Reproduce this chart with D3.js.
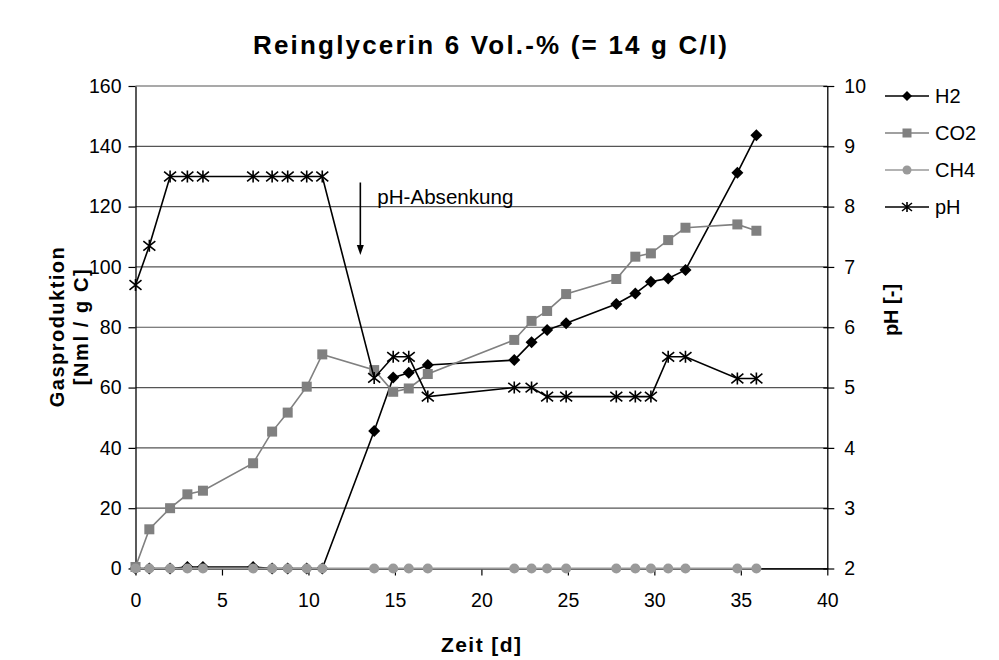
<!DOCTYPE html>
<html><head><meta charset="utf-8">
<script src="https://cdn.jsdelivr.net/npm/d3@7"></script>
<style>body{margin:0;background:#fff}svg{display:block}text{font-family:"Liberation Sans",Arial,sans-serif}</style>
</head><body><svg id="c" width="999" height="660"></svg>
<script>
const days = [0,0.8,2,3,3.9,6.8,7.9,8.8,9.9,10.8,13.8,14.9,15.8,16.9,21.9,22.9,23.8,24.9,27.8,28.9,29.8,30.8,31.8,34.8,35.9];
const h2  = [0,0,0,0.5,0.5,0.5,0,0,0,0,45.6,63.3,64.9,67.5,69.1,75.0,79.1,81.3,87.7,91.2,95.1,96.2,99.0,131.2,143.7];
const co2 = [0.5,13.0,20.0,24.6,25.8,34.9,45.4,51.7,60.3,71.0,65.8,58.6,59.7,64.5,75.8,82.1,85.4,91.0,96.0,103.4,104.5,108.9,113.0,114.1,112.0];
const ch4 = [0,0,0,0,0,0,0,0,0,0,0,0,0,0,0,0,0,0,0,0,0,0,0,0,0];
const ph  = [6.7,7.35,8.5,8.5,8.5,8.5,8.5,8.5,8.5,8.5,5.16,5.51,5.51,4.85,5.0,5.0,4.85,4.85,4.85,4.85,4.85,5.51,5.51,5.15,5.15];
const xTicks = [0,5,10,15,20,25,30,35,40];
const yTicks = [0,20,40,60,80,100,120,140,160];
const y2Ticks = [2,3,4,5,6,7,8,9,10];
const seriesNames = ["H2","CO2","CH4","pH"];
const title = "Reinglycerin 6 Vol.-% (= 14 g C/l)";
const annotation = {x: 13, yTop: 128, yBot: 104, label: "pH-Absenkung"};

const svg = d3.select("#c");
const L=135.5, R=827.3, T=86, B=568.5;
const x = d3.scaleLinear().domain([0,40]).range([L,R]);
const y = d3.scaleLinear().domain([0,160]).range([B,T]);
const y2 = d3.scaleLinear().domain([2,10]).range([B,T]);
const FS = 19.5;

// gridlines
svg.append("g").selectAll("line").data(yTicks).join("line")
  .attr("x1",L).attr("x2",R).attr("y1",d=>y(d)).attr("y2",d=>y(d))
  .attr("stroke","#555").attr("stroke-width",1.2);

// axes
const gx = svg.append("g").attr("transform",`translate(0,${B})`)
  .call(d3.axisBottom(x).tickValues(xTicks).tickSize(7).tickPadding(18).tickSizeOuter(0));
const gy = svg.append("g").attr("transform",`translate(${L},0)`)
  .call(d3.axisLeft(y).tickValues(yTicks).tickSize(7).tickPadding(7).tickSizeOuter(0));
const gy2 = svg.append("g").attr("transform",`translate(${R},0)`)
  .call(d3.axisRight(y2).tickValues(y2Ticks).tickSize(7).tickPadding(10).tickSizeOuter(0));
[gx,gy,gy2].forEach(g=>{
  g.select(".domain").attr("stroke","#000").attr("stroke-width",1.3);
  g.selectAll(".tick line").attr("stroke","#000").attr("stroke-width",1.2);
  g.selectAll(".tick text").attr("font-size",FS).attr("fill","#000").attr("font-family","Liberation Sans, Arial, sans-serif");
});
gy2.selectAll(".tick line").attr("x1",-4);

const pts = (vals, ys) => days.map((d,i)=>[x(d), ys(vals[i])]);
const line = d3.line();

function star(g, cx, cy, s){
  const r=s/2;
  g.append("path").attr("d",`M${cx-r},${cy-r*0.8}L${cx+r},${cy+r*0.8}M${cx-r},${cy+r*0.8}L${cx+r},${cy-r*0.8}M${cx},${cy-r}L${cx},${cy+r}`)
   .attr("stroke","#000").attr("stroke-width",1.6).attr("fill","none");
}
function marker(g, type, cx, cy){
  if(type==="H2") g.append("path").attr("d",`M${cx},${cy-6}L${cx+6},${cy}L${cx},${cy+6}L${cx-6},${cy}Z`).attr("fill","#000");
  else if(type==="CO2") g.append("rect").attr("x",cx-5).attr("y",cy-5).attr("width",10).attr("height",10).attr("fill","#808080");
  else if(type==="CH4") g.append("circle").attr("cx",cx).attr("cy",cy).attr("r",5).attr("fill","#9a9a9a");
  else star(g,cx,cy,12);
}
const styles = {H2:{c:"#000",w:1.6}, CO2:{c:"#808080",w:1.6}, CH4:{c:"#9a9a9a",w:2}, pH:{c:"#000",w:1.6}};
const data = {H2:pts(h2,y), CO2:pts(co2,y), CH4:pts(ch4,y), pH:pts(ph,y2)};
seriesNames.forEach(n=>{
  const g = svg.append("g");
  g.append("path").attr("d",line(data[n])).attr("fill","none").attr("stroke",styles[n].c).attr("stroke-width",styles[n].w);
  data[n].forEach(p=>marker(g,n,p[0],p[1]));
});

// annotation arrow
const ax = x(annotation.x);
svg.append("line").attr("x1",ax).attr("x2",ax).attr("y1",y(annotation.yTop)).attr("y2",y(annotation.yBot)-8)
  .attr("stroke","#000").attr("stroke-width",1.6);
svg.append("path").attr("d",`M${ax-3.5},${y(annotation.yBot)-10}L${ax+3.5},${y(annotation.yBot)-10}L${ax},${y(annotation.yBot)}Z`).attr("fill","#000");
svg.append("text").attr("x",ax+17).attr("y",204).attr("font-size",FS).attr("textLength",136).attr("lengthAdjust","spacingAndGlyphs").text(annotation.label);

// legend
seriesNames.forEach((n,i)=>{
  const ly = 96 + i*37, g = svg.append("g");
  g.append("line").attr("x1",885).attr("x2",929).attr("y1",ly).attr("y2",ly).attr("stroke",styles[n].c).attr("stroke-width",1.6);
  if(n==="H2") g.append("path").attr("d",`M907,${ly-5}L912,${ly}L907,${ly+5}L902,${ly}Z`).attr("fill","#000");
  else if(n==="CO2") g.append("rect").attr("x",902.5).attr("y",ly-4.5).attr("width",9).attr("height",9).attr("fill","#808080");
  else if(n==="CH4") g.append("circle").attr("cx",907).attr("cy",ly).attr("r",4.5).attr("fill","#9a9a9a");
  else star(g,907,ly,10);
  g.append("text").attr("x",935).attr("y",ly+7).attr("font-size",20).text(n);
});

// titles
svg.append("text").attr("x",490).attr("y",54).attr("text-anchor","middle").attr("font-size",26).attr("font-weight","bold")
  .attr("textLength",474).attr("lengthAdjust","spacing").text(title);
svg.append("text").attr("x",481).attr("y",652).attr("text-anchor","middle").attr("font-size",21).attr("font-weight","bold")
  .attr("textLength",80).attr("lengthAdjust","spacing").text("Zeit [d]");
const yt = svg.append("text").attr("transform",`translate(0,${(T+B)/2}) rotate(-90)`).attr("text-anchor","middle").attr("font-size",20).attr("font-weight","bold");
yt.append("tspan").attr("x",0).attr("y",64).attr("textLength",160).attr("lengthAdjust","spacing").text("Gasproduktion");
yt.append("tspan").attr("x",0).attr("y",88).attr("textLength",116).attr("lengthAdjust","spacing").text("[Nml / g C]");
svg.append("text").attr("transform",`translate(898,310) rotate(-90)`).attr("text-anchor","middle").attr("font-size",20).attr("font-weight","bold").text("pH [-]");
</script></body></html>
